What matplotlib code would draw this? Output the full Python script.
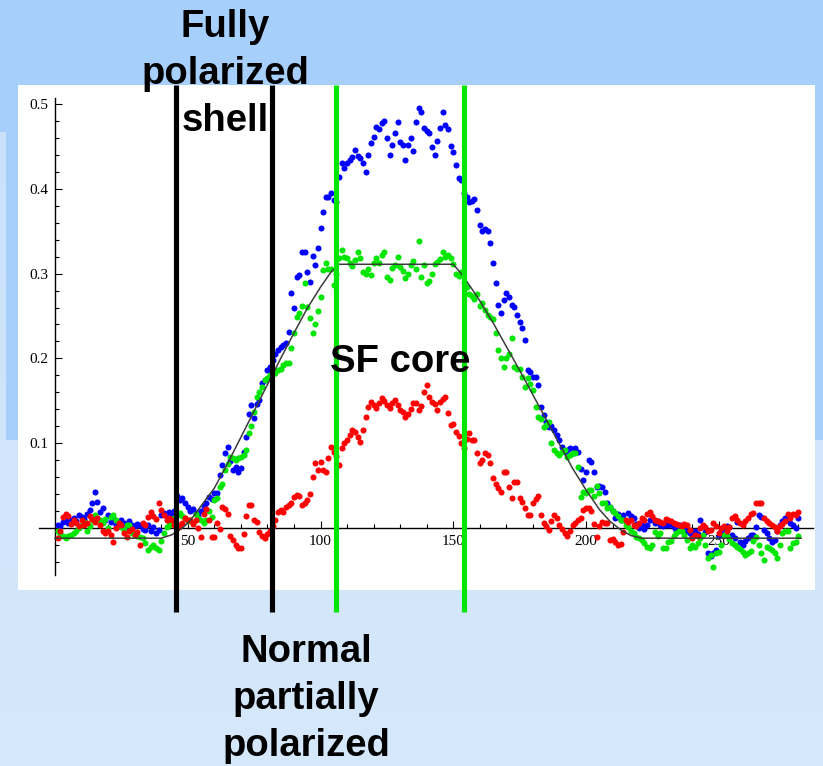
import numpy as np
import matplotlib
matplotlib.use("Agg")
import matplotlib.pyplot as plt
from matplotlib.patches import Rectangle

# ---- data (one point per channel, x = 1..280) ----
blue = [
    0.004, 0.002, 0.007, 0.010, 0.006, 0.009, 0.012, 0.008, 0.015, 0.013,
    0.011, 0.016, 0.021, 0.029, 0.043, 0.031, 0.019, 0.024, 0.010, 0.015,
    0.007, 0.012, 0.003, 0.006, 0.009, 0.006, 0.001, 0.008, 0.004, 0.002,
    0.005, 0.004, -0.001, -0.002, 0.003, -0.004, 0.001, -0.006, -0.002, 0.015,
    0.018, 0.013, 0.019, 0.016, 0.020, 0.038, 0.033, 0.035, 0.030, 0.025,
    0.020, 0.022, 0.018, 0.014, 0.020, 0.026, 0.030, 0.037, 0.034, 0.041,
    0.041, 0.062, 0.074, 0.088, 0.095, 0.079, 0.068, 0.072, 0.066, 0.071,
    0.090, 0.107, 0.135, 0.145, 0.130, 0.146, 0.151, 0.171, 0.175, 0.186,
    0.190, 0.198, 0.205, 0.210, 0.214, 0.216, 0.218, 0.231, 0.277, 0.260,
    0.296, 0.298, 0.325, 0.325, 0.302, 0.290, 0.321, 0.310, 0.330, 0.354,
    0.373, 0.390, 0.390, 0.395, 0.387, 0.384, 0.414, 0.430, 0.425, 0.430,
    0.434, 0.437, 0.446, 0.439, 0.436, 0.430, 0.420, 0.440, 0.454, 0.461,
    0.473, 0.470, 0.478, 0.480, 0.460, 0.440, 0.452, 0.466, 0.479, 0.455,
    0.452, 0.434, 0.452, 0.460, 0.445, 0.479, 0.495, 0.491, 0.472, 0.468,
    0.466, 0.449, 0.440, 0.456, 0.472, 0.490, 0.475, 0.470, 0.450, 0.443,
    0.428, 0.413, 0.410, 0.395, 0.390, 0.385, 0.386, 0.388, 0.375, 0.357,
    0.350, 0.353, 0.350, 0.336, 0.312, 0.289, 0.263, 0.253, 0.269, 0.277,
    0.272, 0.263, 0.261, 0.251, 0.243, 0.236, 0.222, 0.186, 0.184, 0.178,
    0.178, 0.169, 0.143, 0.133, 0.125, 0.119, 0.120, 0.115, 0.110, 0.104,
    0.096, 0.090, 0.092, 0.094, 0.088, 0.094, 0.090, 0.070, 0.057, 0.066,
    0.080, 0.078, 0.066, 0.048, 0.049, 0.048, 0.043, 0.029, 0.025, 0.020,
    0.012, 0.016, 0.010, 0.015, 0.008, 0.018, 0.014, 0.012, 0.005, 0.000,
    0.003, -0.001, 0.004, 0.009, 0.012, 0.006, 0.008, 0.003, 0.002, 0.006,
    0.004, 0.005, 0.001, -0.002, 0.003, 0.004, -0.001, -0.004, -0.006, -0.010,
    -0.003, -0.007, 0.010, 0.002, -0.005, -0.030, -0.033, -0.029, -0.026, -0.010,
    -0.004, 0.000, 0.002, 0.001, -0.008, -0.012, 0.007, -0.017, -0.020, -0.015,
    -0.012, -0.008, -0.008, 0.001, 0.015, 0.013, -0.002, -0.006, -0.012, -0.017,
    -0.014, -0.004, 0.004, 0.008, 0.012, 0.010, 0.006, 0.003, 0.000, 0.012,
]

green = [
    -0.003, -0.007, -0.010, -0.012, -0.009, -0.008, -0.006, -0.003, 0.000, 0.004,
    0.007, -0.004, 0.002, 0.009, 0.015, 0.012, 0.010, 0.006, 0.011, 0.000,
    0.013, 0.015, 0.010, 0.006, 0.001, -0.002, 0.003, 0.004, -0.006, -0.008,
    -0.010, -0.011, -0.012, -0.018, -0.026, -0.022, -0.020, -0.024, -0.026, -0.015,
    -0.006, 0.001, 0.004, 0.008, 0.012, 0.015, 0.018, 0.014, 0.012, 0.008,
    0.010, 0.006, 0.016, 0.012, 0.009, 0.006, 0.010, 0.020, 0.013, 0.033,
    0.035, 0.048, 0.052, 0.068, 0.075, 0.084, 0.082, 0.080, 0.083, 0.084,
    0.086, 0.092, 0.112, 0.120, 0.137, 0.155, 0.160, 0.166, 0.174, 0.177,
    0.180, 0.182, 0.183, 0.186, 0.188, 0.192, 0.194, 0.194, 0.212, 0.230,
    0.249, 0.254, 0.262, 0.289, 0.261, 0.248, 0.230, 0.240, 0.256, 0.272,
    0.304, 0.313, 0.305, 0.305, 0.286, 0.300, 0.318, 0.328, 0.320, 0.318,
    0.312, 0.309, 0.316, 0.325, 0.318, 0.302, 0.300, 0.305, 0.298, 0.313,
    0.318, 0.312, 0.322, 0.325, 0.296, 0.293, 0.307, 0.310, 0.319, 0.308,
    0.303, 0.295, 0.300, 0.310, 0.315, 0.305, 0.339, 0.296, 0.310, 0.289,
    0.291, 0.300, 0.311, 0.314, 0.317, 0.325, 0.320, 0.322, 0.318, 0.311,
    0.300, 0.297, 0.302, 0.290, 0.284, 0.276, 0.273, 0.270, 0.276, 0.262,
    0.265, 0.257, 0.251, 0.249, 0.246, 0.230, 0.210, 0.200, 0.190, 0.200,
    0.205, 0.224, 0.190, 0.187, 0.188, 0.178, 0.166, 0.177, 0.170, 0.163,
    0.143, 0.131, 0.128, 0.119, 0.122, 0.125, 0.100, 0.092, 0.089, 0.086,
    0.090, 0.092, 0.084, 0.086, 0.088, 0.088, 0.072, 0.037, 0.042, 0.041,
    0.045, 0.045, 0.038, 0.050, 0.041, 0.029, 0.030, 0.024, 0.025, 0.020,
    0.018, 0.014, 0.010, 0.009, 0.004, 0.001, -0.003, -0.006, -0.011, -0.012,
    -0.014, -0.018, -0.022, -0.024, -0.020, -0.005, -0.009, -0.006, -0.024, -0.024,
    -0.016, -0.015, -0.010, -0.006, -0.004, -0.003, -0.008, -0.014, -0.024, -0.020,
    -0.022, -0.018, -0.012, -0.008, -0.020, -0.035, -0.032, -0.046, -0.030, -0.028,
    -0.020, -0.008, -0.010, -0.013, -0.018, -0.020, -0.022, -0.025, -0.028, -0.032,
    -0.030, -0.027, -0.015, -0.011, -0.020, -0.030, -0.038, -0.022, -0.024, -0.026,
    -0.030, -0.035, -0.020, -0.006, -0.004, -0.003, -0.024, -0.018, -0.016, -0.010,
]

red = [
    -0.012, -0.004, 0.013, 0.016, 0.014, 0.005, 0.009, 0.006, 0.002, 0.009,
    0.004, 0.006, 0.014, 0.011, 0.007, 0.012, 0.003, -0.004, -0.006, -0.004,
    -0.008, -0.016, 0.000, 0.006, 0.003, -0.006, -0.011, -0.003, -0.001, -0.008,
    -0.005, -0.020, 0.006, 0.004, 0.013, 0.019, 0.014, 0.011, 0.029, 0.021,
    0.015, 0.009, 0.012, 0.009, 0.003, 0.000, 0.004, 0.006, 0.012, 0.009,
    0.009, 0.005, 0.009, 0.000, -0.011, 0.017, 0.022, 0.010, -0.011, -0.011,
    0.006, -0.001, 0.025, 0.023, 0.017, -0.009, -0.014, -0.020, -0.023, -0.024,
    -0.007, 0.014, 0.027, 0.027, 0.009, 0.007, -0.005, -0.010, -0.012, -0.007,
    -0.003, 0.002, 0.009, 0.019, 0.021, 0.019, 0.025, 0.027, 0.030, 0.037,
    0.039, 0.038, 0.027, 0.030, 0.033, 0.040, 0.060, 0.077, 0.068, 0.078,
    0.068, 0.066, 0.082, 0.096, 0.090, 0.085, 0.074, 0.094, 0.100, 0.104,
    0.110, 0.116, 0.113, 0.107, 0.101, 0.116, 0.131, 0.143, 0.149, 0.145,
    0.141, 0.147, 0.153, 0.150, 0.145, 0.142, 0.148, 0.151, 0.145, 0.139,
    0.137, 0.131, 0.134, 0.140, 0.147, 0.147, 0.139, 0.144, 0.160, 0.169,
    0.155, 0.149, 0.146, 0.139, 0.149, 0.152, 0.155, 0.136, 0.121, 0.123,
    0.113, 0.108, 0.100, 0.094, 0.105, 0.112, 0.104, 0.104, 0.088, 0.077,
    0.080, 0.088, 0.086, 0.077, 0.059, 0.052, 0.047, 0.043, 0.066, 0.066,
    0.048, 0.035, 0.054, 0.054, 0.035, 0.031, 0.024, 0.015, 0.015, 0.030,
    0.034, 0.038, 0.015, 0.006, 0.002, -0.002, 0.008, 0.015, 0.012, 0.004,
    -0.001, -0.006, -0.010, -0.004, 0.003, 0.006, 0.009, 0.012, 0.021, 0.024,
    0.024, 0.020, 0.005, -0.011, 0.002, 0.007, 0.006, 0.006, -0.014, -0.013,
    -0.017, -0.020, -0.019, -0.005, 0.009, 0.007, 0.009, 0.004, 0.002, 0.006,
    0.012, 0.010, 0.016, 0.019, 0.014, 0.009, 0.008, 0.007, 0.006, 0.011,
    0.010, 0.008, 0.006, 0.005, 0.004, 0.002, 0.005, 0.003, -0.002, -0.012,
    -0.008, -0.010, 0.000, 0.003, 0.001, -0.004, -0.002, 0.006, 0.002, -0.006,
    0.000, 0.002, -0.003, 0.001, 0.012, 0.014, 0.009, 0.006, 0.004, 0.008,
    0.012, 0.016, 0.018, 0.029, 0.030, 0.029, 0.012, 0.008, 0.006, 0.004,
    0.001, -0.004, 0.002, 0.005, 0.008, 0.016, 0.012, 0.016, 0.015, 0.019,
]

# fitted profile (trapezoid-like curve)
fit_x = [0, 40, 44, 48, 51, 55, 60, 65, 70, 75, 80, 85, 90, 95, 100, 104, 107,
         150, 153, 157, 160, 165, 170, 175, 180, 185, 190, 195, 200, 205, 209,
         213, 217, 221, 281]
fit_y = [-0.012, -0.012, -0.008, 0.000, 0.009, 0.026, 0.047, 0.076, 0.107, 0.138,
         0.169, 0.200, 0.230, 0.259, 0.284, 0.302, 0.311,
         0.311, 0.300, 0.282, 0.268, 0.242, 0.214, 0.186, 0.157, 0.128, 0.099,
         0.070, 0.045, 0.022, 0.008, -0.002, -0.009, -0.012, -0.012]

shell_bounds = [45.6, 81.9]
core_bounds = [106.0, 154.2]

x_major = [50, 100, 150, 200, 250]
y_major = [0.1, 0.2, 0.3, 0.4, 0.5]

# ---- figure ----
W, H = 823, 766
fig = plt.figure(figsize=(W / 100, H / 100), dpi=100)

# slide background
bg = fig.add_axes([0, 0, 1, 1], zorder=-2)
top = np.array([200, 224, 250]) / 255
bot = np.array([214, 232, 251]) / 255
t = np.linspace(0, 1, 200)[:, None, None]
bg.imshow(top + (bot - top) * t, aspect="auto", extent=[0, 1, 0, 1])
dark = np.array([166, 208, 251]) / 255
bg.add_patch(Rectangle((6 / W, 1 - 440 / H), 1, 440 / H, color=dark, lw=0))
bg.add_patch(Rectangle((0, 1 - 132 / H), 1, 132 / H, color=dark, lw=0))
bg.set_xlim(0, 1)
bg.set_ylim(0, 1)
bg.axis("off")

# plot panel (white box in pixel coords 18..815 x 85..590)
ax = fig.add_axes([18 / W, 1 - 590 / H, (815 - 18) / W, (590 - 85) / H])
ax.set_facecolor("white")
ax.set_xlim(-13.94, 286.25)
ax.set_ylim(-0.0731, 0.5224)

dot = 19
ax.scatter(np.arange(1, len(blue) + 1), blue, s=dot, color="#0000ff",
           linewidths=0, zorder=3)
ax.scatter(np.arange(1, len(green) + 1), green, s=dot, color="#00e600",
           linewidths=0, zorder=3)
ax.scatter(np.arange(1, len(red) + 1), red, s=dot, color="#ff0000",
           linewidths=0, zorder=3)
ax.plot(fit_x, fit_y, color="#3c3c3c", lw=1.1, zorder=4)

# Mathematica style axes crossing at origin
for s in ["top", "right"]:
    ax.spines[s].set_visible(False)
ax.spines["left"].set_position(("data", 0))
ax.spines["bottom"].set_position(("data", 0))
ax.spines["left"].set_bounds(-0.055, 0.507)
ax.spines["bottom"].set_bounds(-6, 285.5)
ax.spines["left"].set_linewidth(1.0)
ax.spines["bottom"].set_linewidth(1.0)

ax.set_xticks(x_major)
ax.set_xticklabels([str(v) for v in x_major])
ax.set_xticks(np.arange(10, 290, 10), minor=True)
ax.set_yticks(y_major)
ax.set_yticklabels(["%.1f" % v for v in y_major])
ax.set_yticks([-0.04, -0.02] + [round(0.02 * k, 2) for k in range(1, 26)],
              minor=True)
ax.tick_params(which="major", direction="in", length=5, width=0.8,
               labelsize=11, pad=5)
ax.tick_params(which="minor", direction="in", length=3, width=0.8)
for lab in ax.get_xticklabels() + ax.get_yticklabels():
    lab.set_family("Liberation Serif")

# region markers
ax.vlines(shell_bounds, -0.099, 0.5224, colors="black", lw=3.7,
          clip_on=False, zorder=5)
ax.vlines(core_bounds, -0.099, 0.5224, colors="#00e600", lw=3.7,
          clip_on=False, zorder=5)

txt = dict(ha="center", va="center", fontsize=27.5, fontweight="bold",
           family="Liberation Sans", linespacing=1.38, zorder=10)
fig.text(225 / W, 1 - 74 / H, "Fully\npolarized\nshell", **txt)
fig.text(400 / W, 1 - 362 / H, "SF core", **txt)
fig.text(306 / W, 1 - 699 / H, "Normal\npartially\npolarized", **txt)

fig.savefig("out.png", dpi=100)
